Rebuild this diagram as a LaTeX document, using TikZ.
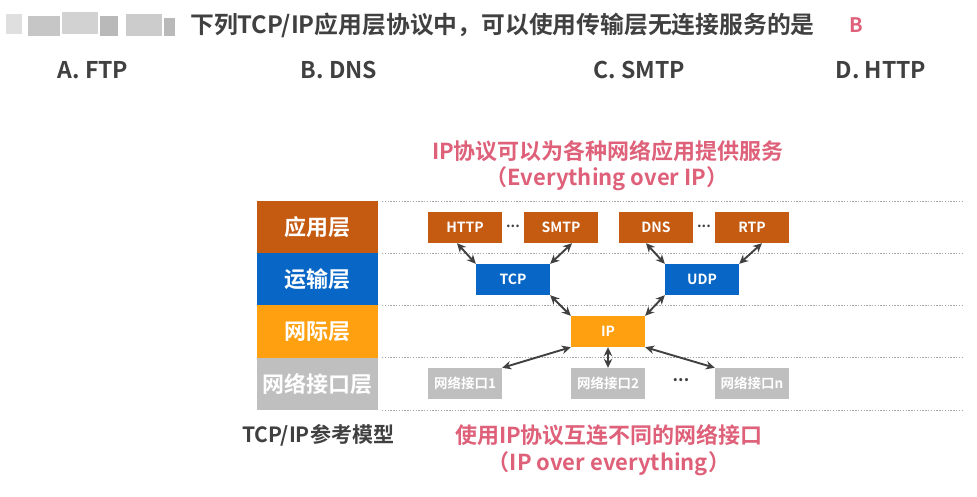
\documentclass[tikz,border=0pt]{standalone}
\usepackage{fontspec}
\setmainfont{Noto Sans CJK SC}[BoldFont={Noto Sans CJK SC Bold}]
\usetikzlibrary{arrows.meta}
\definecolor{appc}{HTML}{C55A11}
\definecolor{tranc}{HTML}{0866C6}
\definecolor{netc}{HTML}{FFA010}
\definecolor{linkc}{HTML}{BFBFBF}
\definecolor{pinkc}{HTML}{DE6079}
\definecolor{darkc}{HTML}{404040}
\definecolor{arrc}{HTML}{404040}
\definecolor{dotc}{HTML}{A6A6A6}
\tikzset{
  layerbox/.style={minimum width=121pt, minimum height=52.5pt, inner sep=0pt, text=white,
    font=\bfseries\fontsize{22}{22}\selectfont},
  protobox/.style={minimum width=74pt, minimum height=31pt, inner sep=0pt, text=white,
    font=\bfseries\fontsize{14}{14}\selectfont},
  linkbox/.style={protobox, fill=linkc, font=\bfseries\fontsize{13.5}{13.5}\selectfont},
  pinktext/.style={text=pinkc, font=\bfseries\fontsize{22}{22}\selectfont, inner sep=0pt},
  darktext/.style={text=darkc, font=\bfseries\fontsize{21}{21}\selectfont, inner sep=0pt},
  opttext/.style={text=darkc, font=\bfseries\fontsize{23}{23}\selectfont, inner sep=0pt},
  dotline/.style={dotc, line width=0.9pt, dash pattern=on 1.4pt off 1.4pt},
  arr/.style={arrc, line width=1.9pt, {Stealth[length=9pt,width=8.5pt]}-{Stealth[length=9pt,width=8.5pt]}},
  ell/.style={text=darkc, font=\bfseries\fontsize{14}{14}\selectfont, inner sep=0pt}
}
\begin{document}
\begin{tikzpicture}[x=1pt,y=-1pt]
\useasboundingbox[fill=white] (0,0) rectangle (977,496);
% blurred header block
\fill[gray!25] (6,14) rectangle (22,34);
\fill[gray!45] (28,16) rectangle (60,36);
\fill[gray!35] (62,12) rectangle (98,34);
\fill[gray!55] (100,16) rectangle (118,36);
\fill[gray!40] (126,14) rectangle (162,36);
\fill[gray!55] (164,18) rectangle (175,36);
% header
\node[opttext, font=\bfseries\fontsize{23.8}{23.8}\selectfont, anchor=west] (q) at (190,25) {下列TCP/IP应用层协议中，可以使用传输层无连接服务的是};
\node[text=pinkc, font=\bfseries\fontsize{20}{20}\selectfont, inner sep=0pt] (ans) at (856,25) {B};
\node[opttext] (oa) at (93,70) {A. FTP};
\node[opttext] (ob) at (339,70) {B. DNS};
\node[opttext] (oc) at (639,70) {C. SMTP};
\node[opttext] (od) at (881,70) {D. HTTP};
% pink captions
\node[pinktext] (t1) at (608,151) {IP协议可以为各种网络应用提供服务};
\node[pinktext] (t2) at (607,179) {（Everything over IP）};
\node[pinktext] (b1) at (609,435) {使用IP协议互连不同的网络接口};
\node[pinktext] (b2) at (609,464) {（IP over everything）};
% dotted lines
\foreach \yy in {201,253.3,305.6,357.8,410} \draw[dotline] (382,\yy) -- (962,\yy);
% layer column
\node[layerbox, fill=appc] (la) at (317.5,227.2) {应用层};
\node[layerbox, fill=tranc] (lt) at (317.5,279.5) {运输层};
\node[layerbox, fill=netc] (ln) at (317.5,331.7) {网际层};
\node[layerbox, fill=linkc] (ll) at (317.5,383.9) {网络接口层};
\node[darktext] (model) at (318,435) {TCP/IP参考模型};
% application protocols
\node[protobox, fill=appc] (http) at (465,227.5) {HTTP};
\node[protobox, fill=appc] (smtp) at (561,227.5) {SMTP};
\node[protobox, fill=appc] (dns) at (656,227.5) {DNS};
\node[protobox, fill=appc] (rtp) at (752,227.5) {RTP};
\node[ell] (e1) at (513,226) {...};
\node[ell] (e2) at (704,226) {...};
% transport
\node[protobox, fill=tranc] (tcp) at (513,279.5) {TCP};
\node[protobox, fill=tranc] (udp) at (702,279.5) {UDP};
% internet
\node[protobox, fill=netc] (ip) at (608,331.5) {IP};
% link
\node[linkbox] (n1) at (465,383.5) {网络接口1};
\node[linkbox] (n2) at (608,383.5) {网络接口2};
\node[linkbox] (nn) at (752,383.5) {网络接口n};
\node[ell, font=\bfseries\fontsize{17}{17}\selectfont] (e3) at (681,380) {...};
% arrows
\draw[arr] ([xshift=-8pt]http.south) -- (tcp.north west);
\draw[arr] ([xshift=11pt]smtp.south) -- (tcp.north east);
\draw[arr] ([xshift=-10pt]dns.south) -- (udp.north west);
\draw[arr] ([xshift=10pt]rtp.south) -- (udp.north east);
\draw[arr] (tcp.south east) -- (ip.north west);
\draw[arr] (udp.south west) -- (ip.north east);
\draw[arr] (ip.south west) -- (n1.north east);
\draw[arr] (ip.south) -- (n2.north);
\draw[arr] (ip.south east) -- (nn.north west);
\end{tikzpicture}
\end{document}
